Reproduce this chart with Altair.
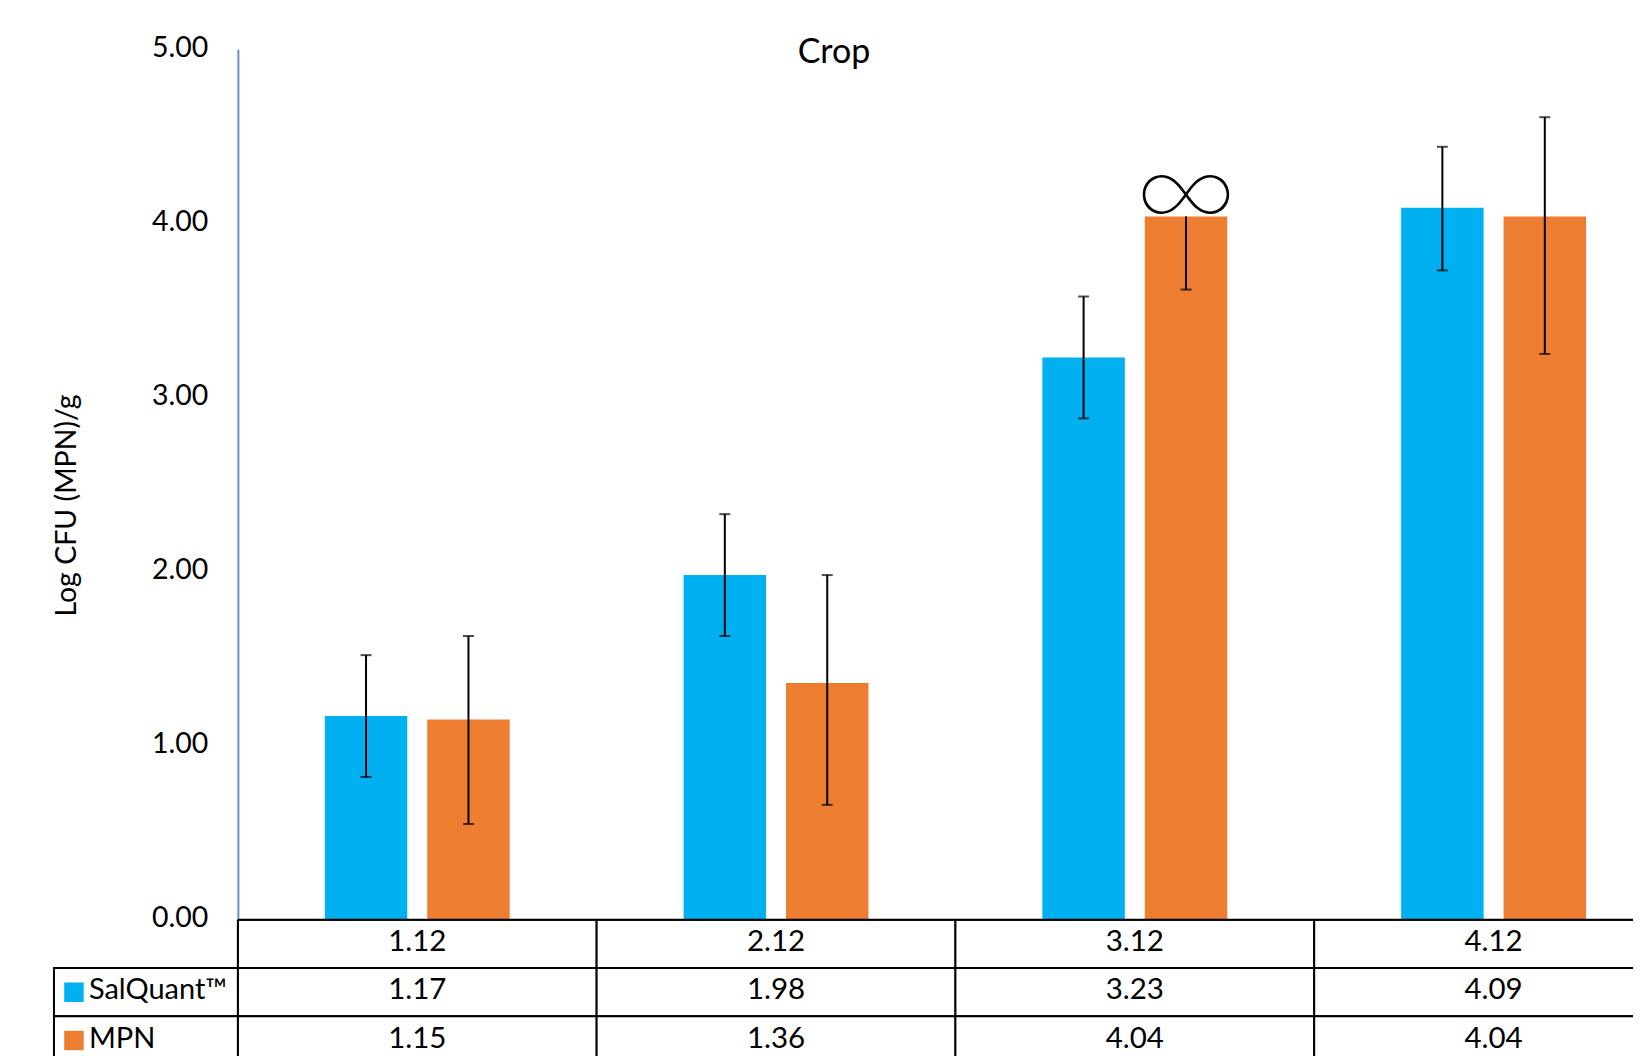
import altair as alt
import pandas as pd

categories = ["1.12", "2.12", "3.12", "4.12"]
series_names = ["SalQuant™", "MPN"]
salquant = [1.17, 1.98, 3.23, 4.09]
mpn = [1.15, 1.36, 4.04, 4.04]
salquant_low = [0.82, 1.63, 2.88, 3.73]
salquant_high = [1.52, 2.33, 3.58, 4.44]
mpn_low = [0.55, 0.66, 3.62, 3.25]
mpn_high = [1.63, 1.98, 4.04, 4.61]
mpn_top_cap = [True, True, False, True]
y_ticks = [0, 1, 2, 3, 4, 5]
BLUE, ORANGE = "#00B0F0", "#ED7D31"
FONT = "Lato"
W = 1396

rows = []
for i, c in enumerate(categories):
    rows.append(dict(cat=c, s=series_names[0], v=salquant[i], lo=salquant_low[i], hi=salquant_high[i], topcap=True))
    rows.append(dict(cat=c, s=series_names[1], v=mpn[i], lo=mpn_low[i], hi=mpn_high[i], topcap=mpn_top_cap[i]))
df = pd.DataFrame(rows)

x = alt.X("cat:N", sort=categories, axis=None, scale=alt.Scale(paddingInner=0, paddingOuter=0, range=[0, 1436]))
xo = alt.XOffset("s:N", sort=series_names, scale=alt.Scale(paddingInner=0.195, paddingOuter=0.849))
color = alt.Color("s:N", sort=series_names, legend=None, scale=alt.Scale(domain=series_names, range=[BLUE, ORANGE]))
yscale = alt.Scale(domain=[0, 5], nice=False)

y_axis = alt.Axis(values=y_ticks, format=".2f", grid=False, ticks=False, domainColor="#6A8FD8", domainWidth=2,
                  labelFont=FONT, labelFontSize=28.5, labelColor="black", labelPadding=30, labelOffset=-2,
                  title="Log CFU (MPN)/g", titleFont=FONT, titleFontSize=28.5, titleFontWeight="normal",
                  titleColor="black", titlePadding=70, titleY=456)

bars = alt.Chart(df).mark_bar().encode(x=x, xOffset=xo, y=alt.Y("v:Q", scale=yscale, axis=y_axis), color=color)
rule = alt.Chart(df).mark_rule(color="black", strokeWidth=2).encode(
    x=x, xOffset=xo, y=alt.Y("lo:Q", scale=yscale), y2="hi:Q")
cap_lo = alt.Chart(df).mark_tick(color="black", thickness=2, size=11).encode(
    x=x, xOffset=xo, y=alt.Y("lo:Q", scale=yscale))
cap_hi = alt.Chart(df[df.topcap]).mark_tick(color="black", thickness=2, size=11).encode(
    x=x, xOffset=xo, y=alt.Y("hi:Q", scale=yscale))
inf = alt.Chart(df[(df.cat == "3.12") & (df.s == "MPN")]).mark_text(
    text="∞", font="Inter", fontSize=115, baseline="middle", color="black", dy=-21, fontWeight=100
).encode(x=x, xOffset=xo, y=alt.Y("v:Q", scale=yscale))
title = alt.Chart(pd.DataFrame({"t": ["Crop"]})).mark_text(
    font=FONT, fontSize=34, color="black", align="center", baseline="middle"
).encode(text="t:N", x=alt.value(596.5), y=alt.value(4))

plot = alt.layer(bars, rule, cap_lo, cap_hi, inf, title).properties(width=W, height=871)

row_names = ["header"] + series_names
cells = []
for i, c in enumerate(categories):
    cells.append(dict(cat=c, row="header", txt=c))
    cells.append(dict(cat=c, row=series_names[0], txt=f"{salquant[i]:.2f}"))
    cells.append(dict(cat=c, row=series_names[1], txt=f"{mpn[i]:.2f}"))
cells = pd.DataFrame(cells)
ty = alt.Y("row:N", sort=row_names, axis=None, scale=alt.Scale(domain=row_names, paddingInner=0, paddingOuter=0))
grid = alt.Chart(cells).mark_rect(fill="white", stroke="black", strokeWidth=2, clip=True).encode(x=x, y=ty)
top_line = alt.Chart(pd.DataFrame({"a": [0]})).mark_rule(color="black", strokeWidth=2).encode(
    x=alt.value(0), x2=alt.value(W), y=alt.value(0))
left_line = alt.Chart(pd.DataFrame({"a": [0]})).mark_rule(color="black", strokeWidth=2).encode(
    x=alt.value(0), y=alt.value(0), y2=alt.value(48))
cell_text = alt.Chart(cells).mark_text(font=FONT, fontSize=29.5, color="black", baseline="middle", dy=-2).encode(
    x=x, y=ty, text="txt:N")

names = pd.DataFrame({"row": series_names, "s": series_names})
name_box = alt.Chart(names).mark_rect(fill="white", stroke="black", strokeWidth=2).encode(
    x=alt.value(-184), x2=alt.value(0), y=ty)
swatch = alt.Chart(names).mark_square(size=380, opacity=1).encode(x=alt.value(-164), y=ty, color=color)
name_text = alt.Chart(names).mark_text(font=FONT, fontSize=29, color="black", align="left", baseline="middle", dy=-2).encode(
    x=alt.value(-149), y=ty, text="s:N")
table = alt.layer(grid, top_line, left_line, cell_text, name_box, swatch, name_text).properties(width=W, height=145)

chart = alt.vconcat(plot, table, spacing=0, bounds="flush").resolve_scale(
    x="independent", y="independent", color="shared"
).configure_view(stroke=None).properties(padding={"left": 44, "top": 25, "right": 0, "bottom": 0}, background="white")

chart.save("out.html", embed_options={"renderer": "svg", "actions": False})
